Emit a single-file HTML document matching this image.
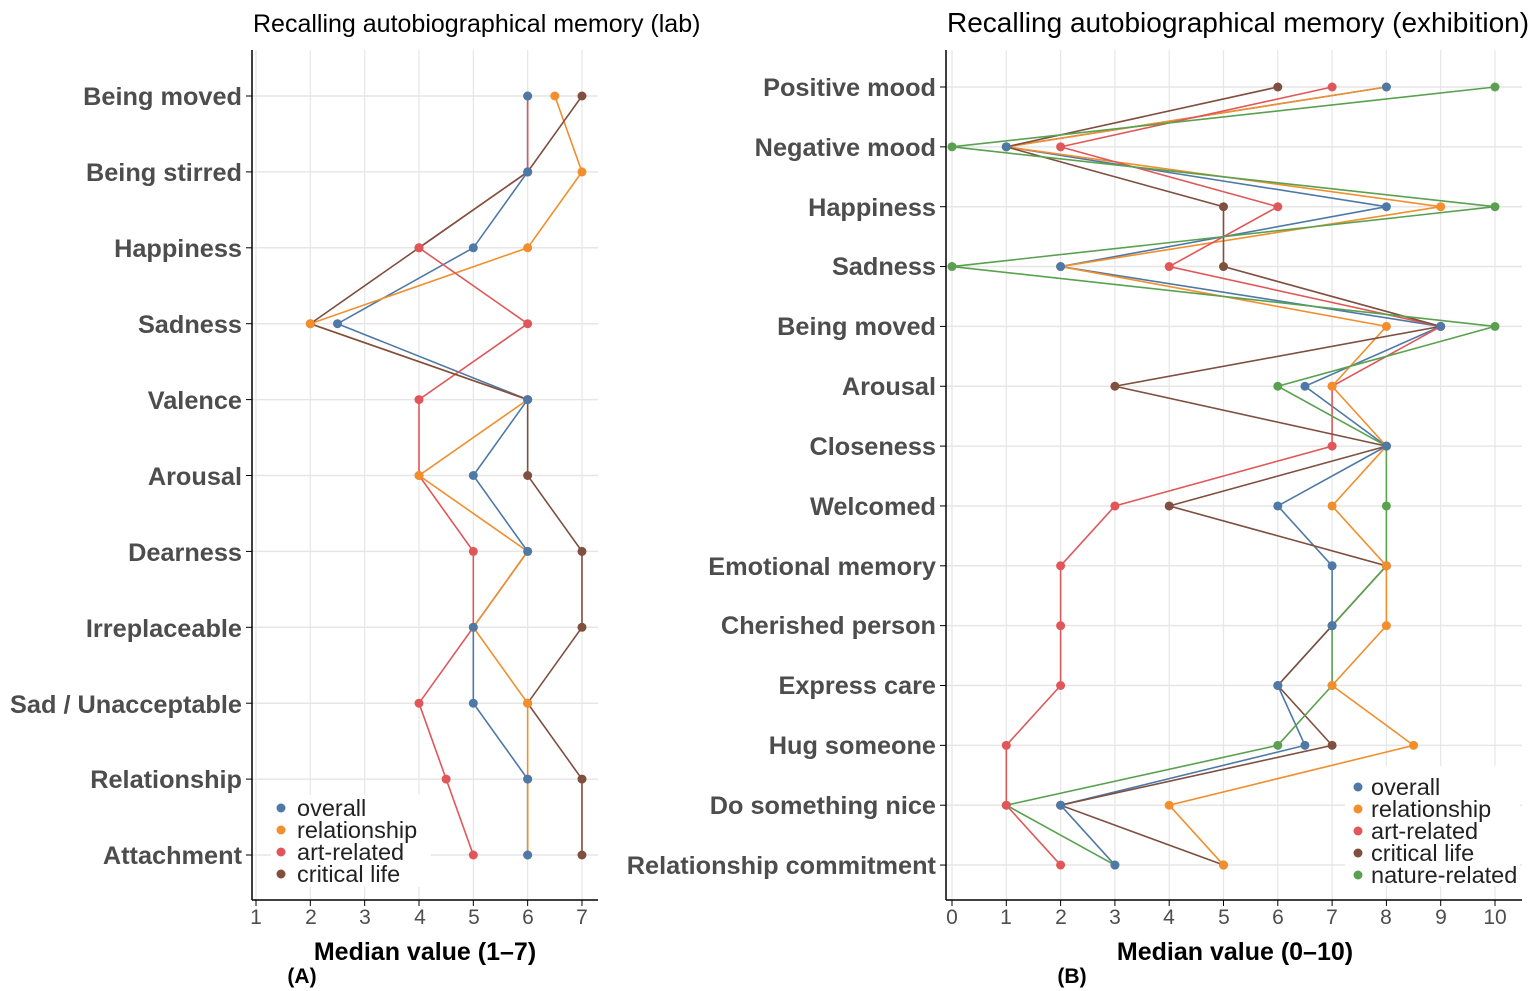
<!DOCTYPE html>
<html><head><meta charset="utf-8"><style>
body{margin:0;background:#fff}
svg{display:block;font-family:"Liberation Sans",Arial,sans-serif}
.yl{font-weight:bold;font-size:25.3px;fill:#4d4d4d;text-anchor:end}
.tk{font-size:21px;fill:#4d4d4d;text-anchor:middle}
.ax{font-weight:bold;font-size:25px;fill:#000;text-anchor:middle}
.tt{font-size:28px;fill:#000}
.lg{font-size:23.5px;fill:#222}
</style></head><body>
<svg id="s" width="1535" height="991" viewBox="0 0 1535 991" xmlns="http://www.w3.org/2000/svg">
<g id="grid"></g>
<text class="tt" x="253" y="32" style="font-size:25px">Recalling autobiographical memory (lab)</text>
<text class="tt" x="947" y="32">Recalling autobiographical memory (exhibition)</text>
<g>
<text class="yl" x="242" y="105">Being moved</text>
<text class="yl" x="242" y="181">Being stirred</text>
<text class="yl" x="242" y="257">Happiness</text>
<text class="yl" x="242" y="333">Sadness</text>
<text class="yl" x="242" y="409">Valence</text>
<text class="yl" x="242" y="485">Arousal</text>
<text class="yl" x="242" y="561">Dearness</text>
<text class="yl" x="242" y="637">Irreplaceable</text>
<text class="yl" x="242" y="713">Sad / Unacceptable</text>
<text class="yl" x="242" y="788">Relationship</text>
<text class="yl" x="242" y="864">Attachment</text>
</g>
<g>
<text class="yl" x="936" y="96">Positive mood</text>
<text class="yl" x="936" y="156">Negative mood</text>
<text class="yl" x="936" y="216">Happiness</text>
<text class="yl" x="936" y="275">Sadness</text>
<text class="yl" x="936" y="335">Being moved</text>
<text class="yl" x="936" y="395">Arousal</text>
<text class="yl" x="936" y="455">Closeness</text>
<text class="yl" x="936" y="515">Welcomed</text>
<text class="yl" x="936" y="575">Emotional memory</text>
<text class="yl" x="936" y="634">Cherished person</text>
<text class="yl" x="936" y="694">Express care</text>
<text class="yl" x="936" y="754">Hug someone</text>
<text class="yl" x="936" y="814">Do something nice</text>
<text class="yl" x="936" y="874">Relationship commitment</text>
</g>
<g>
<text class="tk" x="256" y="924">1</text><text class="tk" x="311" y="924">2</text><text class="tk" x="365" y="924">3</text><text class="tk" x="420" y="924">4</text><text class="tk" x="474" y="924">5</text><text class="tk" x="528" y="924">6</text><text class="tk" x="582" y="924">7</text>
<text class="tk" x="952" y="924">0</text><text class="tk" x="1006" y="924">1</text><text class="tk" x="1061" y="924">2</text><text class="tk" x="1115" y="924">3</text><text class="tk" x="1169" y="924">4</text><text class="tk" x="1224" y="924">5</text><text class="tk" x="1278" y="924">6</text><text class="tk" x="1332" y="924">7</text><text class="tk" x="1386" y="924">8</text><text class="tk" x="1441" y="924">9</text><text class="tk" x="1495" y="924">10</text>
</g>
<text class="ax" x="425" y="960">Median value (1–7)</text>
<text class="ax" x="1235" y="960">Median value (0–10)</text>
<text x="302" y="983" style="font-weight:bold;font-size:21px;text-anchor:middle">(A)</text>
<text x="1072" y="983" style="font-weight:bold;font-size:21px;text-anchor:middle">(B)</text>
<g id="data"></g>
<rect x="1345" y="766" width="175" height="120" fill="#fff"/>
<rect x="271" y="795" width="160" height="92" fill="#fff"/>
<g>
<circle cx="281" cy="808" r="4.5" fill="#4e79a7"/><text class="lg" x="297" y="816">overall</text>
<circle cx="281" cy="830" r="4.5" fill="#f28e2b"/><text class="lg" x="297" y="838">relationship</text>
<circle cx="281" cy="852" r="4.5" fill="#e15759"/><text class="lg" x="297" y="860">art-related</text>
<circle cx="281" cy="874" r="4.5" fill="#7f4f3f"/><text class="lg" x="297" y="882">critical life</text>
<circle cx="1358" cy="787" r="4.5" fill="#4e79a7"/><text class="lg" x="1371" y="795">overall</text>
<circle cx="1358" cy="809" r="4.5" fill="#f28e2b"/><text class="lg" x="1371" y="817">relationship</text>
<circle cx="1358" cy="831" r="4.5" fill="#e15759"/><text class="lg" x="1371" y="839">art-related</text>
<circle cx="1358" cy="853" r="4.5" fill="#7f4f3f"/><text class="lg" x="1371" y="861">critical life</text>
<circle cx="1358" cy="875" r="4.5" fill="#59a14f"/><text class="lg" x="1371" y="883">nature-related</text>
</g>
</svg>
<script>
var NS="http://www.w3.org/2000/svg";
function el(p,t,a){var e=document.createElementNS(NS,t);for(var k in a)e.setAttribute(k,a[k]);p.appendChild(e);return e;}
var g=document.getElementById('grid'),d=document.getElementById('data');
var C=['#4e79a7','#f28e2b','#e15759','#7f4f3f','#59a14f'];
var xL=function(v){return 256+(v-1)*54.33},yL=function(i){return 96+i*75.9};
for(var v=1;v<=7;v++)el(g,'line',{x1:xL(v),x2:xL(v),y1:50,y2:900,stroke:'#e6e6e6','stroke-width':1.2});
for(var i=0;i<11;i++)el(g,'line',{x1:252,x2:598,y1:yL(i),y2:yL(i),stroke:'#e6e6e6','stroke-width':1.5});
el(g,'line',{x1:252,x2:252,y1:50,y2:900,stroke:'#000','stroke-width':1.5});
el(g,'line',{x1:252,x2:598,y1:900,y2:900,stroke:'#000','stroke-width':1.5});
for(var v=1;v<=7;v++)el(g,'line',{x1:xL(v),x2:xL(v),y1:900,y2:906,stroke:'#000'});
for(var i=0;i<11;i++)el(g,'line',{x1:246,x2:252,y1:yL(i),y2:yL(i),stroke:'#000'});
var L=[[6,6,5,2.5,6,5,6,5,5,6,6],[6.5,7,6,2,6,4,6,5,6,6,6],[6,6,4,6,4,4,5,5,4,4.5,5],[7,6,4,2,6,6,7,7,6,7,7]];
var xR=function(v){return 952+v*54.3},yR=function(i){return 87+i*59.85};
for(var v=0;v<=10;v++)el(g,'line',{x1:xR(v),x2:xR(v),y1:50,y2:900,stroke:'#e6e6e6','stroke-width':1.2});
for(var i=0;i<14;i++)el(g,'line',{x1:946,x2:1522,y1:yR(i),y2:yR(i),stroke:'#e6e6e6','stroke-width':1.5});
el(g,'line',{x1:946,x2:946,y1:50,y2:900,stroke:'#000','stroke-width':1.5});
el(g,'line',{x1:946,x2:1522,y1:900,y2:900,stroke:'#000','stroke-width':1.5});
for(var v=0;v<=10;v++)el(g,'line',{x1:xR(v),x2:xR(v),y1:900,y2:906,stroke:'#000'});
for(var i=0;i<14;i++)el(g,'line',{x1:940,x2:946,y1:yR(i),y2:yR(i),stroke:'#000'});
var R=[[8,1,8,2,9,6.5,8,6,7,7,6,6.5,2,3],[8,1,9,2,8,7,8,7,8,8,7,8.5,4,5],[7,2,6,4,9,7,7,3,2,2,2,1,1,2],[6,1,5,5,9,3,8,4,8,7,6,7,2,5],[10,0,10,0,10,6,8,8,8,7,7,6,1,3]];
function draw(S,fx,fy){for(var k=0;k<S.length;k++){var s=S[k];var pts=s.map(function(v,i){return fx(v)+','+fy(i)}).join(' ');
el(d,'polyline',{points:pts,fill:'none',stroke:C[k],'stroke-width':1.6});}
for(var k=S.length-1;k>=0;k--){S[k].forEach(function(v,i){el(d,'circle',{cx:fx(v),cy:fy(i),r:4.5,fill:C[k]});});}}
draw(L,xL,yL);draw(R,xR,yR);
</script>
</body></html>
